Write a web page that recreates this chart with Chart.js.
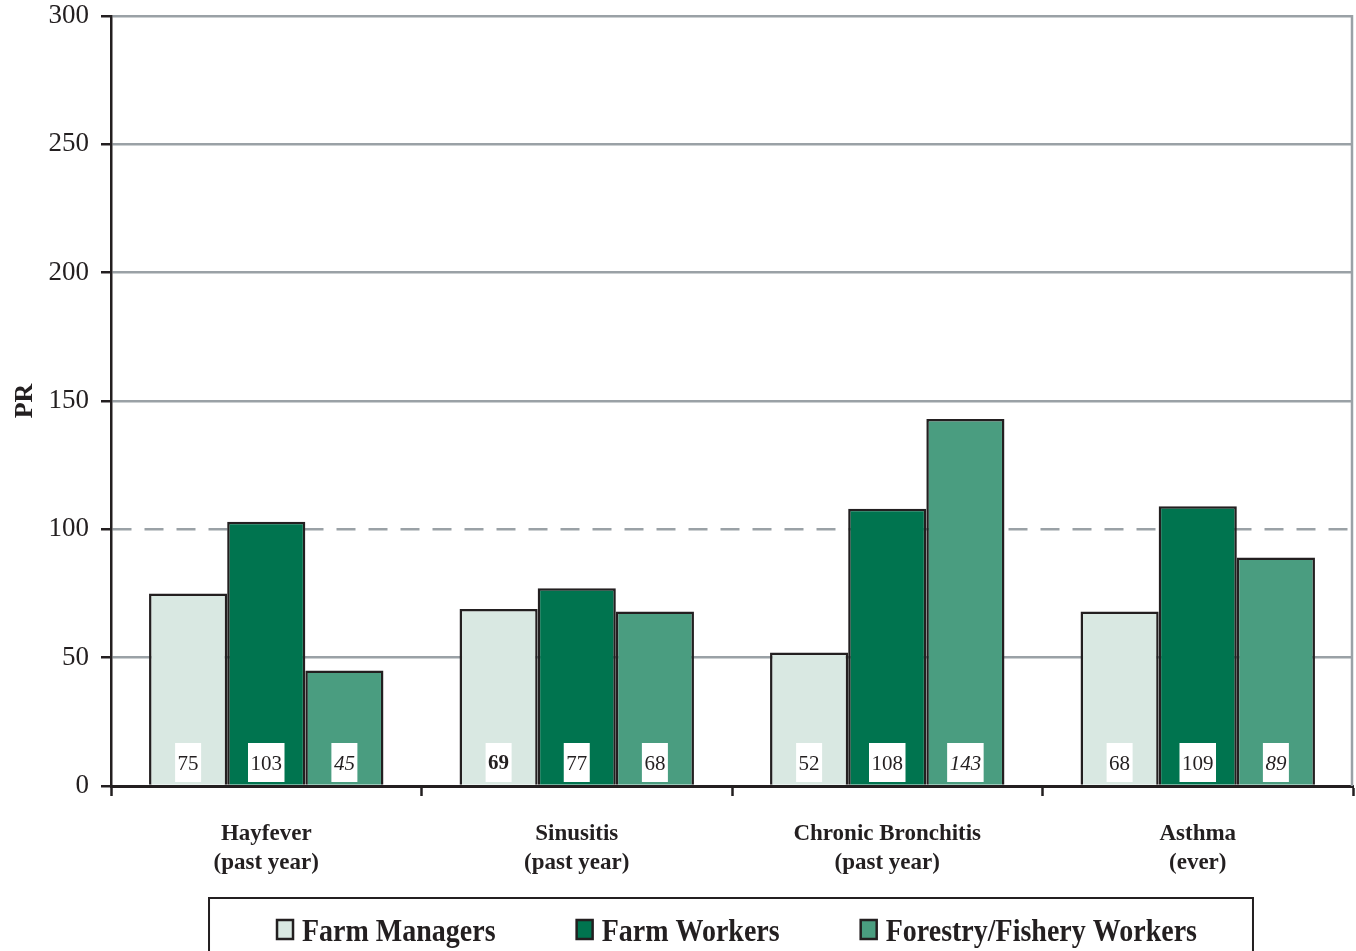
<!DOCTYPE html>
<html>
<head>
<meta charset="utf-8">
<script src="https://cdn.jsdelivr.net/npm/chart.js@4/dist/chart.umd.min.js"></script>
<style>
  html, body { margin: 0; padding: 0; background: #ffffff; }
  #wrap { width: 1356px; height: 951px; position: relative; }
</style>
</head>
<body>
<div id="wrap"><canvas id="c" width="1356" height="951"></canvas></div>
<script>
const categories = [["Hayfever", "(past year)"], ["Sinusitis", "(past year)"], ["Chronic Bronchitis", "(past year)"], ["Asthma", "(ever)"]];
const seriesNames = ["Farm Managers", "Farm Workers", "Forestry/Fishery Workers"];
const farmManagers = [75, 69, 52, 68];
const farmWorkers = [103, 77, 108, 109];
const forestryFishery = [45, 68, 143, 89];
const yTicks = [0, 50, 100, 150, 200, 250, 300];
const referenceLine = 100;
// label styling per value (bold / italic as printed)
const labelStyles = [
  ["normal", "bold", "normal", "normal"],
  ["normal", "normal", "normal", "normal"],
  ["italic", "normal", "italic", "italic"]
];

const SERIF = "'Liberation Serif', 'Times New Roman', 'DejaVu Serif', serif";
const DARK = '#231f20';
const GRID = '#9aa1a6';

const valueLabels = {
  id: 'valueLabels',
  afterDatasetsDraw(chart) {
    const ctx = chart.ctx;
    const yScale = chart.scales.y;
    const base = yScale.getPixelForValue(0);
    chart.data.datasets.forEach((ds, di) => {
      const meta = chart.getDatasetMeta(di);
      meta.data.forEach((bar, i) => {
        const style = labelStyles[di][i];
        const weight = style === 'bold' ? 'bold ' : '';
        const ital = style === 'italic' ? 'italic ' : '';
        ctx.save();
        ctx.font = ital + weight + '21px ' + SERIF;
        const text = String(ds.data[i]);
        const w = ctx.measureText(text).width + 5;
        ctx.fillStyle = '#ffffff';
        ctx.fillRect(bar.x - w / 2, base - 43, w, 39);
        ctx.fillStyle = DARK;
        ctx.textAlign = 'center';
        ctx.textBaseline = 'middle';
        ctx.fillText(text, bar.x, base - 22);
        ctx.restore();
      });
    });
  }
};

const frameAndLegend = {
  id: 'frameAndLegend',
  beforeDatasetsDraw(chart) {
    const ctx = chart.ctx;
    const a = chart.chartArea;
    ctx.save();
    ctx.strokeStyle = GRID;
    ctx.lineWidth = 2.5;
    ctx.beginPath();
    ctx.moveTo(a.right - 1, a.top - 1);
    ctx.lineTo(a.right - 1, a.bottom);
    ctx.stroke();
    ctx.restore();
  },
  afterDraw(chart) {
    const ctx = chart.ctx;
    const a = chart.chartArea;
    const ds = chart.data.datasets;
    ctx.save();
    ctx.font = 'bold 28px ' + SERIF;
    const markerW = 16, markerH = 19, markerGap = 9, itemGap = 81;
    const widths = ds.map(d => ctx.measureText(d.label).width);
    let total = 0;
    widths.forEach((w, i) => { total += markerW + markerGap + w + (i < widths.length - 1 ? itemGap : 0); });
    const center = (a.left + a.right) / 2 + 5;
    let x = center - total / 2;
    const top = a.bottom + 111;
    // frame
    ctx.strokeStyle = DARK;
    ctx.lineWidth = 2;
    const boxLeft = x - 68, boxRight = x + total + 56;
    ctx.strokeRect(boxLeft, top + 1, boxRight - boxLeft, 80);
    const cy = top + 36;
    ds.forEach((d, i) => {
      ctx.fillStyle = d.backgroundColor;
      ctx.fillRect(x, cy - 13, markerW, markerH);
      ctx.strokeStyle = DARK;
      ctx.lineWidth = 2.5;
      ctx.strokeRect(x, cy - 13, markerW, markerH);
      x += markerW + markerGap;
      ctx.save();
      ctx.translate(x, cy);
      ctx.scale(1, 1.15);
      ctx.fillStyle = DARK;
      ctx.textAlign = 'left';
      ctx.textBaseline = 'middle';
      ctx.fillText(d.label, 0, 0);
      ctx.restore();
      x += widths[i] + itemGap;
    });
    ctx.restore();
  }
};

const colors = ['#d9e8e2', '#00744f', '#4a9d80'];

new Chart(document.getElementById('c'), {
  type: 'bar',
  data: {
    labels: categories,
    datasets: [farmManagers, farmWorkers, forestryFishery].map((d, i) => ({
      label: seriesNames[i],
      data: d,
      backgroundColor: colors[i],
      borderColor: DARK,
      borderWidth: 2.5,
      borderSkipped: 'bottom',
      categoryPercentage: 0.755,
      barPercentage: 1.0
    }))
  },
  options: {
    responsive: false,
    animation: false,
    devicePixelRatio: 1,
    layout: { padding: { top: 16, right: 3, left: 0, bottom: 0 } },
    plugins: {
      tooltip: { enabled: false },
      legend: { display: false }
    },
    scales: {
      x: {
        offset: true,
        grid: {
          offset: true,
          drawOnChartArea: false,
          drawTicks: true,
          tickLength: 10,
          tickColor: DARK,
          tickWidth: 2.5,
          color: DARK
        },
        border: { display: true, color: DARK, width: 3 },
        ticks: {
          font: { family: SERIF, size: 23, weight: 'bold', lineHeight: 1.26 },
          color: DARK,
          padding: 24,
          maxRotation: 0,
          autoSkip: false
        },
        afterFit(scale) { scale.height = 165; scale.paddingLeft = 0; scale.paddingRight = 0; }
      },
      y: {
        min: 0,
        max: 300,
        afterBuildTicks(scale) { scale.ticks = yTicks.map(v => ({ value: v })); },
        grid: {
          color: ctx => (ctx.tick && ctx.tick.value === 0) ? DARK : GRID,
          lineWidth: 2.5,
          tickLength: 10,
          tickColor: DARK,
          tickWidth: 2.5
        },
        border: {
          display: true,
          color: DARK,
          width: 2.5,
          dash: ctx => (ctx.tick && ctx.tick.value === referenceLine) ? [19, 13] : []
        },
        ticks: {
          font: { family: SERIF, size: 27 },
          color: DARK,
          padding: 12
        },
        title: {
          display: true,
          text: 'PR',
          font: { family: SERIF, size: 26, weight: 'bold' },
          color: DARK,
          padding: { top: 10, bottom: 0 }
        },
        afterFit(scale) { scale.width = 111; scale.paddingTop = 0; scale.paddingBottom = 0; }
      }
    }
  },
  plugins: [valueLabels, frameAndLegend]
});
</script>
</body>
</html>
